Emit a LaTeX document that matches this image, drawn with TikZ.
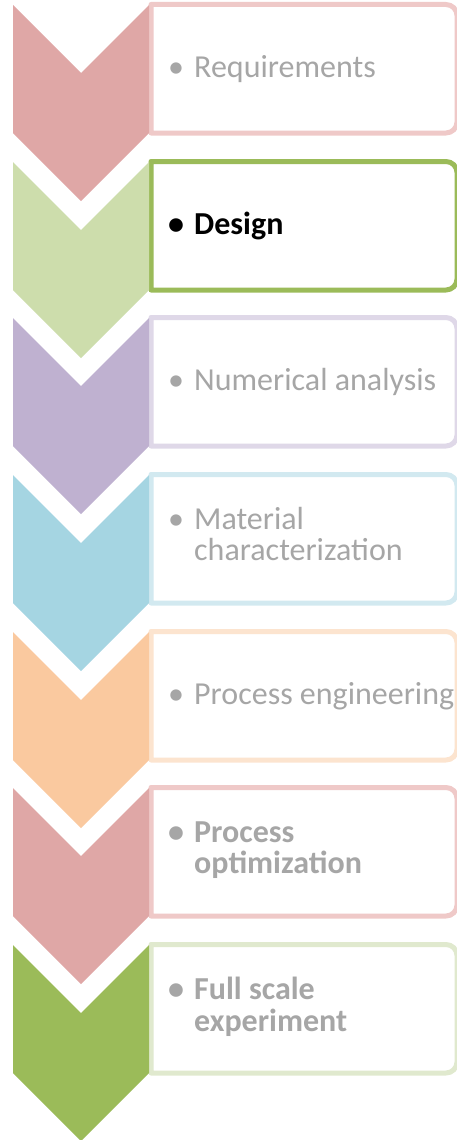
\documentclass[tikz,border=0pt]{standalone}
\usepackage{fontspec}
\setmainfont{Carlito}

\definecolor{rosefill}{HTML}{DFA7A6}
\definecolor{roseedge}{HTML}{EFC9C8}
\definecolor{leaffill}{HTML}{CDDDAC}
\definecolor{leafedge}{HTML}{9BBB59}
\definecolor{lilacfill}{HTML}{BFB1D0}
\definecolor{lilacedge}{HTML}{DFD8E8}
\definecolor{skyfill}{HTML}{A5D5E2}
\definecolor{skyedge}{HTML}{D2E9F0}
\definecolor{peachfill}{HTML}{FAC99F}
\definecolor{peachedge}{HTML}{FCE4CF}
\definecolor{grassfill}{HTML}{9BBB59}
\definecolor{grassedge}{HTML}{E0E9CE}
\definecolor{dimtext}{HTML}{A6A6A6}

\begin{document}
\begin{tikzpicture}[
        x=1pt, y=-1pt,
        stagebox/.style={line width=5pt, fill=white, line join=round},
        stagetext/.style={anchor=west, inner sep=0pt, align=left, text=dimtext,
            font=\fontsize{32}{30}\selectfont},
        active/.style={text=black, font=\fontsize{32}{30}\selectfont\bfseries}
    ]
    \useasboundingbox (0,0) rectangle (457,1140);

    % --- ROW 1: Requirements ---
    \draw[stagebox, draw=roseedge] (151,4.5) -- (446,4.5) arc[start angle=-90, end angle=0, radius=11]
        -- (457,122) arc[start angle=0, end angle=90, radius=11] -- (151,133) -- cycle;
    \fill[rosefill] (13,5) -- ++(68,68) -- ++(68,-68) -- ++(0,128) -- ++(-68,68) -- ++(-68,-68) -- cycle;
    \node[stagetext] (req) at (168,68.75) {\makebox[26pt][l]{\textbullet}Requirements};

    % --- ROW 2: Design (current stage) ---
    \draw[stagebox, draw=leafedge] (151,161.5) -- (446,161.5) arc[start angle=-90, end angle=0, radius=11]
        -- (457,279) arc[start angle=0, end angle=90, radius=11] -- (151,290) -- cycle;
    \fill[leaffill] (13,162) -- ++(68,68) -- ++(68,-68) -- ++(0,128) -- ++(-68,68) -- ++(-68,-68) -- cycle;
    \node[stagetext, active] (design) at (168,225.75) {\makebox[26pt][l]{\textbullet}Design};

    % --- ROW 3: Numerical analysis ---
    \draw[stagebox, draw=lilacedge] (151,317.5) -- (446,317.5) arc[start angle=-90, end angle=0, radius=11]
        -- (457,435) arc[start angle=0, end angle=90, radius=11] -- (151,446) -- cycle;
    \fill[lilacfill] (13,318) -- ++(68,68) -- ++(68,-68) -- ++(0,128) -- ++(-68,68) -- ++(-68,-68) -- cycle;
    \node[stagetext] (numan) at (168,381.75) {\makebox[26pt][l]{\textbullet}Numerical analysis};

    % --- ROW 4: Material characterization ---
    \draw[stagebox, draw=skyedge] (151,474.5) -- (446,474.5) arc[start angle=-90, end angle=0, radius=11]
        -- (457,592) arc[start angle=0, end angle=90, radius=11] -- (151,603) -- cycle;
    \fill[skyfill] (13,475) -- ++(68,68) -- ++(68,-68) -- ++(0,128) -- ++(-68,68) -- ++(-68,-68) -- cycle;
    \node[stagetext] (matchar) at (168,538.75) {\begin{tabular}{@{}p{26pt}@{}l@{}}
        \textbullet & Material\\ & characterization\end{tabular}};

    % --- ROW 5: Process engineering ---
    \draw[stagebox, draw=peachedge] (151,631.5) -- (446,631.5) arc[start angle=-90, end angle=0, radius=11]
        -- (457,749) arc[start angle=0, end angle=90, radius=11] -- (151,760) -- cycle;
    \fill[peachfill] (13,632) -- ++(68,68) -- ++(68,-68) -- ++(0,128) -- ++(-68,68) -- ++(-68,-68) -- cycle;
    \node[stagetext] (proceng) at (168,695.75) {\makebox[26pt][l]{\textbullet}Process engineering};

    % --- ROW 6: Process optimization ---
    \draw[stagebox, draw=roseedge] (151,787.5) -- (446,787.5) arc[start angle=-90, end angle=0, radius=11]
        -- (457,905) arc[start angle=0, end angle=90, radius=11] -- (151,916) -- cycle;
    \fill[rosefill] (13,788) -- ++(68,68) -- ++(68,-68) -- ++(0,128) -- ++(-68,68) -- ++(-68,-68) -- cycle;
    \node[stagetext, font=\fontsize{32}{30}\selectfont\bfseries] (procopt) at (168,851.75) {\begin{tabular}{@{}p{26pt}@{}l@{}}
        \textbullet & Process\\ & optimization\end{tabular}};

    % --- ROW 7: Full scale experiment ---
    \draw[stagebox, draw=grassedge] (151,944.5) -- (446,944.5) arc[start angle=-90, end angle=0, radius=11]
        -- (457,1062) arc[start angle=0, end angle=90, radius=11] -- (151,1073) -- cycle;
    \fill[grassfill] (13,945) -- ++(68,68) -- ++(68,-68) -- ++(0,128) -- ++(-68,68) -- ++(-68,-68) -- cycle;
    \node[stagetext, font=\fontsize{32}{30}\selectfont\bfseries] (fullexp) at (168,1008.75) {\begin{tabular}{@{}p{26pt}@{}l@{}}
        \textbullet & Full scale\\ & experiment\end{tabular}};

\end{tikzpicture}
\end{document}
